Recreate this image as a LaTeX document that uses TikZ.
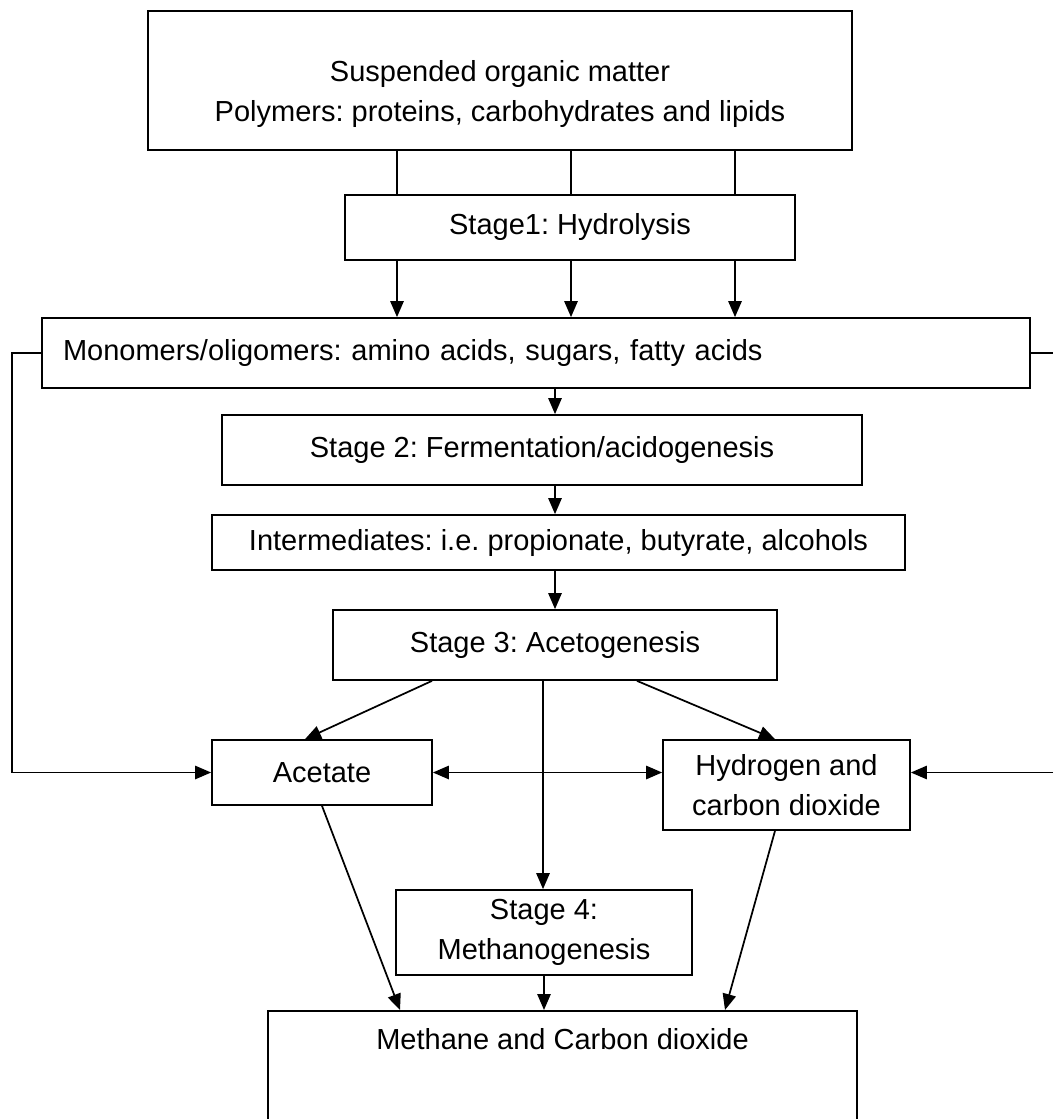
\documentclass[tikz,border=0pt]{standalone}
\usepackage{fontspec}
\setmainfont{Liberation Sans}
\usetikzlibrary{arrows.meta}
\frenchspacing

\begin{document}
\begin{tikzpicture}[x=0.75pt,y=-0.75pt,>={Triangle[length=12pt,width=10pt]},
  box/.style={draw,line width=1.3pt,align=center,inner sep=0pt,font=\fontsize{21.75pt}{30pt}\selectfont},
  link/.style={line width=1.3pt}]
  \useasboundingbox (0,0) rectangle (1053,1119);
  % boxes
  \node[box,minimum width=528pt,minimum height=104.25pt] (top) at (500,80.5) {\rule{0pt}{36pt}Suspended organic matter\\Polymers: proteins, carbohydrates and lipids};
  \node[box,minimum width=337.5pt,minimum height=48.75pt] (s1) at (570,227.5) {Stage1: Hydrolysis};
  \node[box,align=left,text width=709.5pt,inner xsep=15.75pt,minimum height=52.5pt] (mono) at (536,353) {Monomers/oligomers: amino acids, sugars, fatty acids};
  \node[box,minimum width=480pt,minimum height=52.5pt] (s2) at (542,450) {Stage 2: Fermentation/acidogenesis};
  \node[box,minimum width=519.75pt,minimum height=41.25pt] (inter) at (558.5,542.5) {Intermediates: i.e. propionate, butyrate, alcohols};
  \node[box,minimum width=333pt,minimum height=52.5pt] (s3) at (555,645) {Stage 3: Acetogenesis};
  \node[box,minimum width=165pt,minimum height=48.75pt] (acet) at (322,772.5) {Acetate};
  \node[box,minimum width=185.25pt,minimum height=67.5pt] (hyd) at (786.5,785) {Hydrogen and\\carbon dioxide};
  \node[box,minimum width=222pt,minimum height=63.75pt] (s4) at (544,932.5) {Stage 4:\\Methanogenesis};
  \node[box,anchor=north,minimum width=441.75pt,inner ysep=12.75pt,text height=16pt,text depth=75pt] (meth) at (562.5,1010) {Methane and Carbon dioxide};
  % columns for the connectors
  \coordinate (ca) at (397,0);
  \coordinate (cb) at (571,0);
  \coordinate (cc) at (735,0);
  \coordinate (cd) at (555,0);
  \coordinate (ce) at (543,0);
  \coordinate (da) at (432,0);
  \coordinate (db) at (305,0);
  \coordinate (dc) at (637,0);
  \coordinate (dd) at (775,0);
  \coordinate (de) at (725,0);
  \coordinate (df) at (400,0);
  \coordinate (lout) at (12,0);
  \coordinate (rout) at (1053,0);
  % stage 1
  \foreach \c in {ca,cb,cc} {
    \draw[link] (top.south -| \c) -- (s1.north -| \c);
    \draw[link,->] (s1.south -| \c) -- (mono.north -| \c);
  }
  % middle column
  \draw[link,->] (mono.south -| cd) -- (s2.north -| cd);
  \draw[link,->] (s2.south -| cd) -- (inter.north -| cd);
  \draw[link,->] (inter.south -| cd) -- (s3.north -| cd);
  % stage 3 products
  \draw[link,->] (s3.south -| da) -- (acet.north -| db);
  \draw[link,->] (s3.south -| ce) -- (s4.north -| ce);
  \draw[link,->] (s3.south -| dc) -- (hyd.north -| dd);
  \draw[link,<->] (acet.east) -- (hyd.west |- acet.east);
  % side lines
  \draw[link,->] (mono.west) -- (mono.west -| lout) |- (acet.west);
  \draw[link] (mono.east) -- (mono.east -| rout);
  \draw[link,->] (rout |- acet.east) -- (hyd.east |- acet.east);
  % stage 4
  \draw[link,->] (acet.south) -- (meth.north -| df);
  \draw[link,->] (s4.south) -- (meth.north -| s4.south);
  \draw[link,->] (hyd.south -| dd) -- (meth.north -| de);
\end{tikzpicture}
\end{document}
